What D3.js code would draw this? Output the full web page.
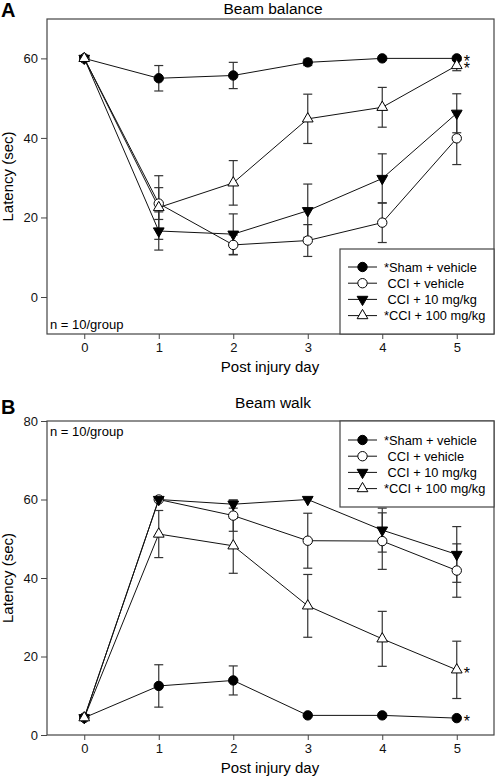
<!DOCTYPE html>
<html><head><meta charset="utf-8">
<script src="https://cdn.jsdelivr.net/npm/d3@7"></script>
<style>body{margin:0;background:#fff}svg{display:block;font-family:"Liberation Sans",Arial,sans-serif}</style>
</head><body><svg id="c" width="496" height="778"></svg>
<script>
const days = [0,1,2,3,4,5];
const seriesNames = ["*Sham + vehicle"," CCI + vehicle"," CCI + 10 mg/kg","*CCI + 100 mg/kg"];
const seriesSymbols = ["circleFilled","circleOpen","triDownFilled","triUpOpen"];

// Panel A: Beam balance
const balanceSham = [60,55,55.7,59,60,60];
const balanceShamErr = [0,3.2,3.3,0.8,0,0];
const balanceVeh = [60,23.5,13.1,14.2,18.7,39.9];
const balanceVehErr = [0,4,2.5,4,5,6.6];
const balance10 = [60,16.6,15.8,21.7,29.8,46.2];
const balance10Err = [0,4.8,5.1,6.7,6.2,4.9];
const balance100 = [60,22.5,28.7,44.8,47.7,58.2];
const balance100Err = [0,8,5.6,6.2,5,1.3];
const balanceTicks = [0,20,40,60];
const balanceStars = [60,58.4];

// Panel B: Beam walk
const walkSham = [4.4,12.5,13.9,5.0,5.0,4.3];
const walkShamErr = [0,5.4,3.7,0,0,0];
const walkVeh = [4.4,60,55.9,49.5,49.4,41.9];
const walkVehErr = [0,0,4,7,7.2,6.8];
const walk10 = [4.4,60,58.8,60,52.2,46];
const walk10Err = [0,0,1,0,5.6,7.1];
const walk100 = [4.4,51.2,48.2,32.9,24.5,16.6];
const walk100Err = [0,6,7,8,7,7.3];
const walkTicks = [0,20,40,60,80];
const walkStars = [16.6,4.3];

const svg = d3.select("#c");
const axisCol = "#444";

function drawPanel(cfg){
  const g = svg.append("g");
  const x = d3.scaleLinear().domain([-0.5,5.5]).range([47,494]);
  const y = d3.scaleLinear().domain(cfg.ydom).range([cfg.bottom,cfg.top]);
  g.append("rect").attr("x",47).attr("y",cfg.top).attr("width",447).attr("height",cfg.bottom-cfg.top)
    .attr("fill","none").attr("stroke",axisCol).attr("stroke-width",1.2);
  const xa = g.append("g").attr("transform",`translate(0,${cfg.bottom})`)
    .call(d3.axisBottom(x).tickValues(days).tickFormat(d3.format("d")).tickSize(5).tickPadding(4));
  const ya = g.append("g").attr("transform",`translate(47,0)`)
    .call(d3.axisLeft(y).tickValues(cfg.ticks).tickFormat(d3.format("d")).tickSize(6).tickPadding(3));
  [xa,ya].forEach(a=>{
    a.select(".domain").remove();
    a.selectAll("line").attr("stroke",axisCol);
    a.selectAll("text").attr("font-size",13).attr("fill","#111").attr("font-family","Liberation Sans, Arial, sans-serif");
  });
  g.append("text").attr("x",273).attr("y",cfg.titleY).attr("text-anchor","middle").attr("font-size",15.5).text(cfg.title);
  g.append("text").attr("x",1).attr("y",cfg.letterY).attr("font-size",20).attr("font-weight","bold").text(cfg.letter);
  g.append("text").attr("x",270).attr("y",cfg.bottom+38).attr("text-anchor","middle").attr("font-size",15).text("Post injury day");
  g.append("text").attr("transform",`translate(13,${(cfg.top+cfg.bottom)/2}) rotate(-90)`).attr("text-anchor","middle").attr("font-size",15).text("Latency (sec)");
  g.append("text").attr("x",50).attr("y",cfg.nY).attr("font-size",13).text("n = 10/group");

  const series = cfg.series;
  const line = d3.line().x((d,i)=>x(days[i])).y(d=>y(d));
  series.forEach(s=>{
    g.append("path").attr("d",line(s.v)).attr("fill","none").attr("stroke","#111").attr("stroke-width",1);
  });
  series.forEach(s=>{
    s.v.forEach((v,i)=>{
      const e = s.e[i]; if(!e) return;
      const cx = x(days[i]);
      g.append("line").attr("x1",cx).attr("x2",cx).attr("y1",y(v-e)).attr("y2",y(v+e)).attr("stroke","#333").attr("stroke-width",1.2);
      [v-e,v+e].forEach(t=>g.append("line").attr("x1",cx-4.5).attr("x2",cx+4.5).attr("y1",y(t)).attr("y2",y(t)).attr("stroke","#333").attr("stroke-width",1.2));
    });
  });
  series.forEach((s,k)=>{
    s.v.forEach((v,i)=>drawSym(g,seriesSymbols[k],x(days[i]),y(v)));
  });
  const st = g.append("text").attr("font-size",16);
  cfg.stars.forEach(v=>{
    st.append("tspan").attr("x",x(5)+7).attr("y",y(v)+9).text("*");
  });
  const L = cfg.legend;
  g.append("rect").attr("x",340).attr("y",L.top).attr("width",154).attr("height",L.h)
    .attr("fill","#fff").attr("stroke",axisCol).attr("stroke-width",1.2);
  seriesNames.forEach((n,k)=>{
    const yy = L.top + L.first + k*16.2;
    g.append("line").attr("x1",348).attr("x2",377).attr("y1",yy).attr("y2",yy).attr("stroke","#111");
    drawSym(g,seriesSymbols[k],362.5,yy);
    g.append("text").attr("x",384).attr("y",yy+4.6).attr("font-size",12.8).attr("xml:space","preserve").style("white-space","pre").text(n);
  });
}

function drawSym(g,type,cx,cy){
  if(type==="circleFilled"||type==="circleOpen"){
    g.append("circle").attr("cx",cx).attr("cy",cy).attr("r",4.7)
      .attr("fill",type==="circleFilled"?"#000":"#fff").attr("stroke","#000").attr("stroke-width",1);
  } else {
    const sym = d3.symbol().type(d3.symbolTriangle).size(50);
    const down = type==="triDownFilled";
    g.append("path").attr("d",sym()).attr("transform",`translate(${cx},${cy}) rotate(${down?180:0})`)
      .attr("fill",down?"#000":"#fff").attr("stroke","#000").attr("stroke-width",1);
  }
}

drawPanel({
  title:"Beam balance", letter:"A", titleY:14, letterY:17, top:19, bottom:334, ydom:[-9.3,69.9], ticks:balanceTicks, nY:329,
  series:[{v:balanceSham,e:balanceShamErr},{v:balanceVeh,e:balanceVehErr},{v:balance10,e:balance10Err},{v:balance100,e:balance100Err}],
  stars:balanceStars, legend:{top:249,h:85,first:18}
});
drawPanel({
  title:"Beam walk", letter:"B", titleY:408, letterY:414, top:421, bottom:735, ydom:[0,80], ticks:walkTicks, nY:436,
  series:[{v:walkSham,e:walkShamErr},{v:walkVeh,e:walkVehErr},{v:walk10,e:walk10Err},{v:walk100,e:walk100Err}],
  stars:walkStars, legend:{top:421,h:86,first:19}
});
</script></body></html>
